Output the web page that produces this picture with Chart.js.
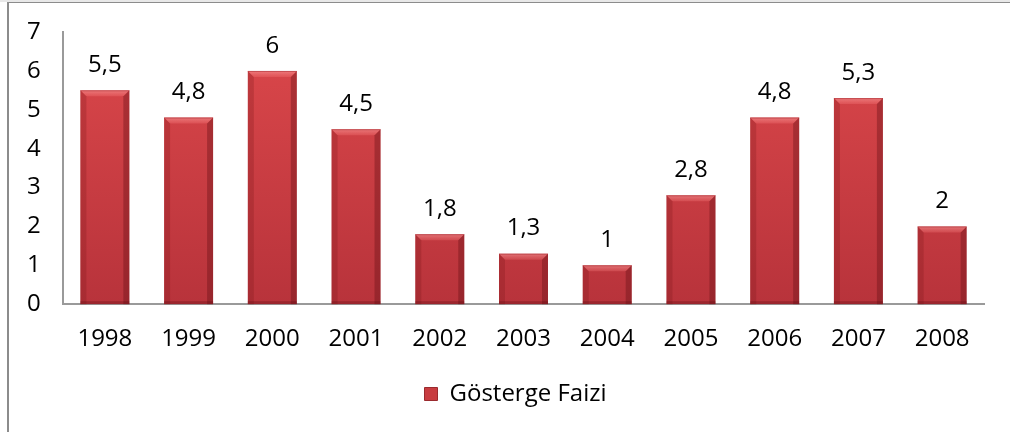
<!DOCTYPE html>
<html>
<head>
<meta charset="utf-8">
<script src="https://cdn.jsdelivr.net/npm/chart.js@4.4.0/dist/chart.umd.min.js"></script>
<style>
  html, body { margin: 0; padding: 0; background: #fff; }
  #wrap { position: relative; width: 1010px; height: 432px; overflow: hidden; }
  #topstrip { position: absolute; left: 0; top: 0; width: 1010px; height: 2px; background: #e8e8e8; }
  #frame { position: absolute; left: 7px; top: 2px; width: 1100px; height: 460px; border-left: 2px solid #8c8c8c; border-top: 1px solid #8c8c8c; box-sizing: border-box; }
  canvas { position: absolute; left: 0; top: 0; }
</style>
</head>
<body>
<div id="wrap">
  <div id="topstrip"></div>
  <div id="frame"></div>
  <canvas id="c" width="1010" height="432"></canvas>
</div>
<script>
const categories = ["1998","1999","2000","2001","2002","2003","2004","2005","2006","2007","2008"];
const values = [5.5, 4.8, 6, 4.5, 1.8, 1.3, 1, 2.8, 4.8, 5.3, 2];
const valueLabels = ["5,5","4,8","6","4,5","1,8","1,3","1","2,8","4,8","5,3","2"];
const yTicks = [0,1,2,3,4,5,6,7];
const seriesName = "Gösterge Faizi";

const FONT = "'Open Sans', 'Liberation Sans', sans-serif";

function barFill(ctx) {
  const chart = ctx.chart;
  const area = chart.chartArea;
  if (!area) return '#c83a3e';
  const g = chart.ctx.createLinearGradient(0, area.top, 0, area.bottom);
  g.addColorStop(0, '#dc484b');
  g.addColorStop(1, '#b8333b');
  return g;
}

const bevelPlugin = {
  id: 'bevel',
  afterDatasetsDraw(chart) {
    const c = chart.ctx;
    const meta = chart.getDatasetMeta(0);
    c.save();
    meta.data.forEach((bar) => {
      const p = bar.getProps(['x','y','base','width'], true);
      const l = p.x - p.width/2, r = p.x + p.width/2, t = p.y, b = p.base;
      const e = 6;
      c.fillStyle = 'rgba(120,20,25,0.25)';
      c.beginPath(); c.moveTo(l,t); c.lineTo(l+e,t+e); c.lineTo(l+e,b); c.lineTo(l,b); c.closePath(); c.fill();
      c.fillStyle = 'rgba(100,15,20,0.38)';
      c.beginPath(); c.moveTo(r,t); c.lineTo(r-e,t+e); c.lineTo(r-e,b); c.lineTo(r,b); c.closePath(); c.fill();
      const tg = c.createLinearGradient(0, t, 0, t+e);
      tg.addColorStop(0, 'rgba(255,170,170,0.55)');
      tg.addColorStop(1, 'rgba(255,130,130,0.25)');
      c.fillStyle = tg;
      c.beginPath(); c.moveTo(l,t); c.lineTo(r,t); c.lineTo(r-e,t+e); c.lineTo(l+e,t+e); c.closePath(); c.fill();
      c.fillStyle = 'rgba(160,30,35,0.5)';
      c.fillRect(l, t, p.width, 1);
      c.fillStyle = 'rgba(90,10,15,0.3)';
      c.fillRect(l, b-3, p.width, 3);
    });
    c.restore();
  }
};

const labelPlugin = {
  id: 'vlabels',
  afterDatasetsDraw(chart) {
    const c = chart.ctx;
    const meta = chart.getDatasetMeta(0);
    c.save();
    c.font = "24px " + FONT;
    c.fillStyle = '#000';
    c.textAlign = 'center';
    c.textBaseline = 'middle';
    meta.data.forEach((bar, i) => {
      c.fillText(valueLabels[i], bar.x, bar.y - 25);
    });
    c.restore();
  }
};

const legendShift = {
  id: 'legendShift',
  afterLayout(chart) {
    if (chart.legend) { chart.legend.left += 10; chart.legend.right += 10; }
  }
};

new Chart(document.getElementById('c'), {
  type: 'bar',
  data: {
    labels: categories,
    datasets: [{
      label: seriesName,
      data: values,
      backgroundColor: barFill,
      borderWidth: 0,
      categoryPercentage: 1,
      barPercentage: 0.585
    }]
  },
  options: {
    responsive: false,
    animation: false,
    devicePixelRatio: 1,
    layout: { padding: { left: 27, right: 26, top: 32, bottom: 16 } },
    scales: {
      x: {
        grid: { display: false, drawTicks: false },
        border: { display: true, color: '#9a9a9a', width: 2 },
        ticks: { color: '#000', font: { family: FONT, size: 24 }, padding: 21 }
      },
      y: {
        min: 0, max: 7,
        afterBuildTicks(s) { s.ticks = yTicks.map(v => ({ value: v })); },
        afterFit(s) { s.width = 36; },
        grid: { display: false, drawTicks: false },
        border: { display: true, color: '#9a9a9a', width: 2 },
        ticks: { color: '#000', font: { family: FONT, size: 24 }, padding: 0, crossAlign: 'far' }
      }
    },
    plugins: {
      legend: {
        position: 'bottom',
        labels: {
          color: '#000',
          font: { family: FONT, size: 24 },
          boxWidth: 13, boxHeight: 13,
          padding: 7,
          generateLabels() {
            return [{ text: seriesName, fillStyle: '#c83c40', strokeStyle: '#9a2a2e', lineWidth: 1, datasetIndex: 0 }];
          }
        }
      },
      tooltip: { enabled: false }
    }
  },
  plugins: [bevelPlugin, labelPlugin, legendShift]
});
</script>
</body>
</html>
